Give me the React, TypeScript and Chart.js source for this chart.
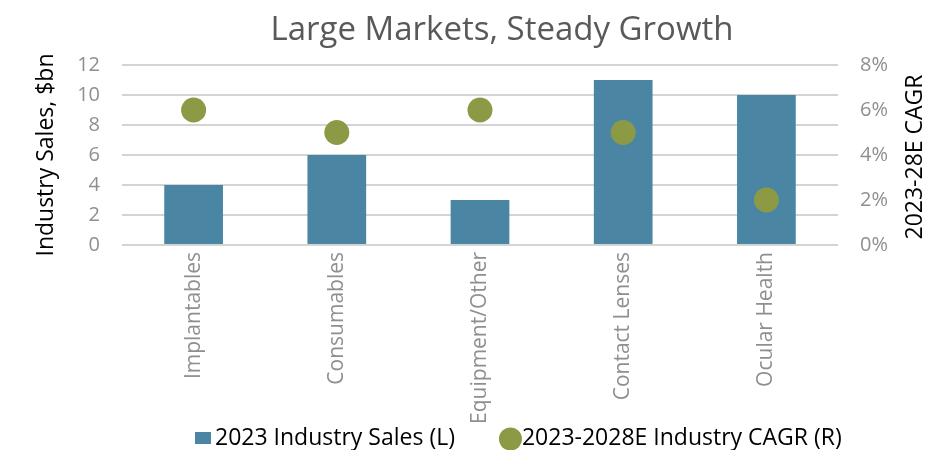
import React, { useEffect, useRef } from "react";
import { Chart, registerables } from "chart.js";

Chart.register(...registerables);

const chartTitle = "Large Markets, Steady Growth";
const categories = ["Implantables", "Consumables", "Equipment/Other", "Contact Lenses", "Ocular Health"];
const salesLabel = "2023 Industry Sales (L)";
const salesValues = [4, 6, 3, 11, 10];
const cagrLabel = "2023-2028E Industry CAGR (R)";
const cagrValues = [6, 5, 6, 5, 2];
const leftAxisTitle = "Industry Sales, $bn";
const rightAxisTitle = "2023-28E CAGR";
const leftTicks = { min: 0, max: 12, step: 2 };
const rightTicks = { min: 0, max: 8, step: 2 };

const FONT = '"Open Sans", "Noto Sans", sans-serif';
const BAR_COLOR = "#4a86a4";
const DOT_COLOR = "#8d9a45";
const TICK_COLOR = "#8f8f8f";
const GRID_COLOR = "#d4d4d4";

const decorPlugin = {
  id: "decor",
  afterDraw(chart: any) {
    const { ctx, chartArea } = chart;
    ctx.save();
    // Title
    ctx.font = `33px ${FONT}`;
    ctx.fillStyle = "#595959";
    ctx.textAlign = "center";
    ctx.textBaseline = "alphabetic";
    ctx.fillText(chartTitle, (chartArea.left + chartArea.right) / 2 + 22, 40);

    // Right axis title (reads bottom to top)
    ctx.save();
    ctx.translate(chart.width - 8, (chartArea.top + chartArea.bottom) / 2 + 2);
    ctx.rotate(-Math.PI / 2);
    ctx.font = `23px ${FONT}`;
    ctx.fillStyle = "#000000";
    ctx.textAlign = "center";
    ctx.textBaseline = "alphabetic";
    ctx.fillText(rightAxisTitle, 0, 0);
    ctx.restore();

    // Legend: bar series first, then dot series
    const ds = chart.data.datasets;
    const barDs = ds.find((d: any) => d.type === "bar");
    const dotDs = ds.find((d: any) => d.type === "line");
    const baseY = chart.height - 5;
    const midY = chart.height - 12;
    ctx.font = `23px ${FONT}`;
    ctx.textAlign = "left";
    ctx.textBaseline = "alphabetic";
    let x = chartArea.left + 73;
    ctx.fillStyle = barDs.backgroundColor;
    ctx.fillRect(x, midY - 6, 16, 12);
    x += 20;
    ctx.fillStyle = "#000000";
    ctx.fillText(barDs.label, x, baseY);
    x += ctx.measureText(barDs.label).width + 44;
    ctx.fillStyle = dotDs.backgroundColor;
    ctx.beginPath();
    ctx.arc(x + 11.5, midY + 1, 11.5, 0, Math.PI * 2);
    ctx.fill();
    x += 23;
    ctx.fillStyle = "#000000";
    ctx.fillText(dotDs.label, x, baseY);
    ctx.restore();
  },
};

export default function App() {
  const canvasRef = useRef<HTMLCanvasElement | null>(null);

  useEffect(() => {
    if (!canvasRef.current) return;
    const chart = new Chart(canvasRef.current, {
      type: "bar",
      data: {
        labels: categories,
        datasets: [
          {
            type: "line",
            label: cagrLabel,
            data: cagrValues,
            yAxisID: "y1",
            showLine: false,
            backgroundColor: DOT_COLOR,
            borderColor: DOT_COLOR,
            pointBackgroundColor: DOT_COLOR,
            pointBorderWidth: 0,
            pointRadius: 12.5,
            pointHoverRadius: 12.5,
            order: 0,
          } as any,
          {
            type: "bar",
            label: salesLabel,
            data: salesValues,
            yAxisID: "y",
            backgroundColor: BAR_COLOR,
            borderWidth: 0,
            barPercentage: 0.41,
            categoryPercentage: 1,
            order: 1,
          },
        ],
      },
      options: {
        animation: false,
        responsive: true,
        maintainAspectRatio: false,
        layout: { padding: { top: 65, left: 0, right: 0, bottom: 0 } },
        plugins: {
          legend: { display: false },
          title: { display: false },
          tooltip: { enabled: false },
        },
        scales: {
          x: {
            type: "category",
            grid: { display: false, drawTicks: false },
            border: { display: false },
            ticks: {
              color: TICK_COLOR,
              font: { family: FONT, size: 21 },
              minRotation: 90,
              maxRotation: 90,
              padding: 7,
              autoSkip: false,
            },
            afterFit(scale: any) {
              scale.height = 205;
            },
          },
          y: {
            position: "left",
            min: leftTicks.min,
            max: leftTicks.max,
            grid: { color: GRID_COLOR, lineWidth: 2, drawTicks: false },
            border: { display: false },
            ticks: {
              stepSize: leftTicks.step,
              color: TICK_COLOR,
              font: { family: FONT, size: 20 },
              padding: 22,
            },
            title: {
              display: true,
              text: leftAxisTitle,
              color: "#000000",
              font: { family: FONT, size: 23 },
              padding: { top: 33, bottom: 0 },
            },
            afterFit(scale: any) {
              scale.width = 122;
            },
          },
          y1: {
            position: "right",
            min: rightTicks.min,
            max: rightTicks.max,
            grid: { display: false, drawTicks: false },
            border: { display: false },
            ticks: {
              stepSize: rightTicks.step,
              color: TICK_COLOR,
              font: { family: FONT, size: 20 },
              padding: 22,
              callback: (v: any) => `${v}%`,
            },
            afterFit(scale: any) {
              scale.width = 92;
            },
          },
        },
      },
      plugins: [decorPlugin],
    });
    return () => chart.destroy();
  }, []);

  return (
    <div style={{ position: "fixed", left: 0, top: 0, width: 930, height: 450, background: "#ffffff" }}>
      <canvas ref={canvasRef} />
    </div>
  );
}
